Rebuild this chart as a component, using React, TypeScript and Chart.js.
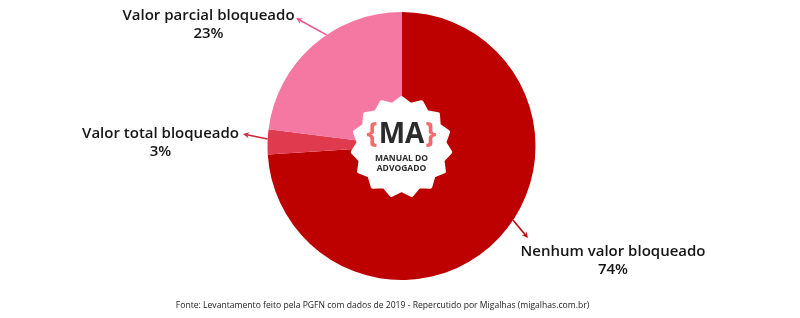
import React, { useEffect, useRef } from 'react';
import { Chart, registerables } from 'chart.js';

Chart.register(...registerables);

const categories = ['Nenhum valor bloqueado', 'Valor total bloqueado', 'Valor parcial bloqueado'];
const shares = [74, 3, 23];
const shareLabels = ['74%', '3%', '23%'];
const sourceNote = 'Fonte: Levantamento feito pela PGFN com dados de 2019 - Repercutido por Migalhas (migalhas.com.br)';

const sliceColors = ['#bd0000', '#e03a4f', '#f478a1'];
const arrowColors = ['#b80a0a', '#c9283b', '#ea5590'];
// label layout: text centre x, first baseline y, arrow start angle (deg, chart.js convention), arrow end
const labelLayout = [
  { tx: 613, ty: 256, ang: 33.6, ex: 528, ey: 238 },
  { tx: 160.5, ty: 138, ang: 183, ex: 243, ey: 134 },
  { tx: 208.5, ty: 20, ang: 236, ex: 296, ey: 18 },
];

const FONT = '"Open Sans", "Noto Sans", sans-serif';

function drawArrow(ctx: CanvasRenderingContext2D, x1: number, y1: number, x2: number, y2: number, color: string) {
  const a = Math.atan2(y2 - y1, x2 - x1);
  const hl = 7;
  ctx.save();
  ctx.strokeStyle = color;
  ctx.fillStyle = color;
  ctx.lineWidth = 1.6;
  ctx.beginPath();
  ctx.moveTo(x1, y1);
  ctx.lineTo(x2 - Math.cos(a) * 4, y2 - Math.sin(a) * 4);
  ctx.stroke();
  ctx.beginPath();
  ctx.moveTo(x2, y2);
  ctx.lineTo(x2 - hl * Math.cos(a - 0.45), y2 - hl * Math.sin(a - 0.45));
  ctx.lineTo(x2 - hl * 0.6 * Math.cos(a), y2 - hl * 0.6 * Math.sin(a));
  ctx.lineTo(x2 - hl * Math.cos(a + 0.45), y2 - hl * Math.sin(a + 0.45));
  ctx.closePath();
  ctx.fill();
  ctx.restore();
}

const overlayPlugin = {
  id: 'overlay',
  afterDraw(chart: any) {
    const ctx: CanvasRenderingContext2D = chart.ctx;
    const meta = chart.getDatasetMeta(0);
    const arc0 = meta.data[0];
    const cx = arc0.x;
    const cy = arc0.y;
    const r = arc0.outerRadius;

    // labels + arrows
    meta.data.forEach((arc: any, i: number) => {
      const L = labelLayout[i];
      const a = (L.ang * Math.PI) / 180;
      const sx = cx + r * Math.cos(a);
      const sy = cy + r * Math.sin(a);
      drawArrow(ctx, sx, sy, L.ex, L.ey, arrowColors[i]);
      ctx.save();
      ctx.fillStyle = '#151515';
      ctx.textAlign = 'center';
      ctx.textBaseline = 'alphabetic';
      ctx.font = `600 15px ${FONT}`;
      ctx.fillText(categories[i], L.tx, L.ty);
      ctx.fillText(shareLabels[i], L.tx, L.ty + 18);
      ctx.restore();
    });

    // badge
    ctx.save();
    const n = 15;
    const ro = 49;
    const ri = 43;
    const by = cy + 1;
    ctx.beginPath();
    for (let k = 0; k < n * 2; k++) {
      const rr = k % 2 === 0 ? ro : ri;
      const t = (k * Math.PI) / n - Math.PI / 2;
      const px = cx + rr * Math.cos(t);
      const py = by + rr * Math.sin(t);
      if (k === 0) ctx.moveTo(px, py);
      else ctx.lineTo(px, py);
    }
    ctx.closePath();
    ctx.fillStyle = '#ffffff';
    ctx.lineJoin = 'round';
    ctx.strokeStyle = '#ffffff';
    ctx.lineWidth = 4;
    ctx.fill();
    ctx.stroke();

    ctx.textBaseline = 'alphabetic';
    ctx.font = `700 28px ${FONT}`;
    const wb = ctx.measureText('{').width;
    const wm = ctx.measureText('MA').width;
    const total = wb * 2 + wm + 2;
    let x = cx - total / 2;
    ctx.textAlign = 'left';
    ctx.fillStyle = '#f06b6b';
    ctx.fillText('{', x, cy - 3);
    ctx.fillStyle = '#2b2b2b';
    ctx.fillText('MA', x + wb + 1, cy - 3);
    ctx.fillStyle = '#f06b6b';
    ctx.fillText('}', x + wb + wm + 2, cy - 3);

    ctx.textAlign = 'center';
    ctx.fillStyle = '#2b2b2b';
    ctx.font = `700 8.5px ${FONT}`;
    ctx.fillText('MANUAL DO', cx, cy + 15);
    ctx.fillText('ADVOGADO', cx, cy + 25);

    // source note
    ctx.fillStyle = '#1a1a1a';
    ctx.font = `400 8.6px ${FONT}`;
    ctx.fillText(sourceNote, 382.5, 308);
    ctx.restore();
  },
};

export default function App() {
  const ref = useRef<HTMLCanvasElement | null>(null);
  useEffect(() => {
    if (!ref.current) return;
    const chart = new Chart(ref.current, {
      type: 'pie',
      data: {
        labels: categories,
        datasets: [
          {
            data: shares,
            backgroundColor: sliceColors,
            borderWidth: 0,
          },
        ],
      },
      options: {
        responsive: false,
        animation: false,
        layout: { padding: { top: 12, bottom: 38, left: 3, right: 0 } },
        plugins: {
          legend: { display: false },
          tooltip: { enabled: false },
        },
      },
      plugins: [overlayPlugin],
    });
    return () => chart.destroy();
  }, []);
  return (
    <div style={{ position: 'fixed', left: 0, top: 0, width: 800, height: 318, background: '#fff' }}>
      <canvas ref={ref} width={800} height={318} style={{ width: 800, height: 318 }} />
    </div>
  );
}
